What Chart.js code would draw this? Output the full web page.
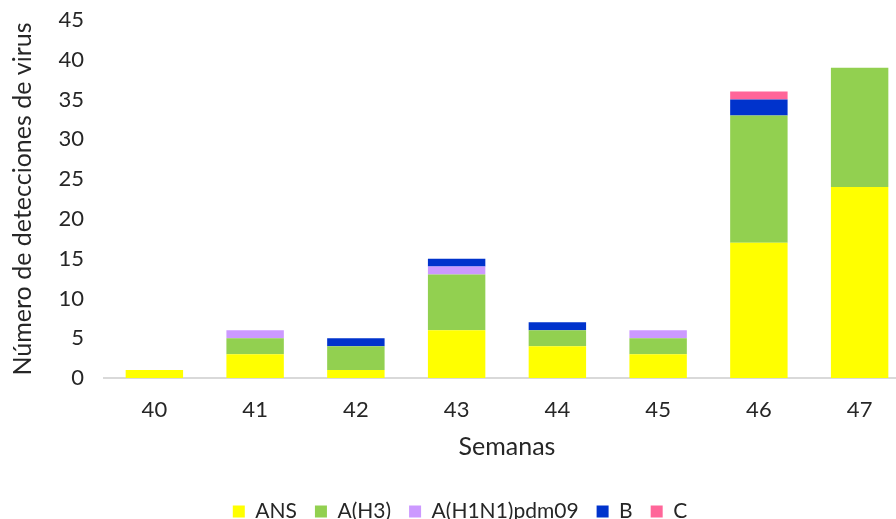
<!DOCTYPE html>
<html>
<head>
<meta charset="utf-8">
<script src="https://cdn.jsdelivr.net/npm/chart.js@4"></script>
<style>
  html, body { margin: 0; padding: 0; background: #fff; overflow: hidden; }
  #wrap { width: 896px; height: 519px; overflow: hidden; }
</style>
</head>
<body>
<div id="wrap"><canvas id="chart" width="910" height="532"></canvas></div>
<script>
// weeks and detections per virus type
var semanas = ['40', '41', '42', '43', '44', '45', '46', '47'];
var ans     = [1, 3, 1, 6, 4, 3, 17, 24];
var aH3     = [0, 2, 3, 7, 2, 2, 16, 15];
var aH1N1   = [0, 1, 0, 1, 0, 1, 0, 0];
var virusB  = [0, 0, 1, 1, 1, 0, 2, 0];
var virusC  = [0, 0, 0, 0, 0, 0, 1, 0];

var fontFam = 'Lato, "Open Sans", sans-serif';
var textColor = '#262626';

// one stacked bar series
var makeSet = function (label, data, color) {
    return {
        label: label,
        data: data,
        backgroundColor: color,
        borderWidth: 0,
        barPercentage: 0.57,
        categoryPercentage: 1.0
    };
};

new Chart(document.getElementById('chart'), {
    type: 'bar',
    data: {
        labels: semanas,
        datasets: [
            makeSet('ANS', ans, '#FFFF00'),
            makeSet('A(H3)', aH3, '#92D050'),
            makeSet('A(H1N1)pdm09', aH1N1, '#CC99FF'),
            makeSet('B', virusB, '#0033CC'),
            makeSet('C', virusC, '#FF6699')
        ]
    },
    options: {
        responsive: false,
        animation: false,
        layout: { padding: { top: 20, left: 10, right: 0, bottom: 0 } },
        plugins: {
            tooltip: { enabled: false },
            legend: {
                position: 'bottom',
                labels: {
                    boxWidth: 12,
                    boxHeight: 12,
                    padding: 18,
                    color: textColor,
                    font: { family: fontFam, size: 21 }
                }
            }
        },
        scales: {
            x: {
                stacked: true,
                grid: { display: false, drawTicks: false },
                border: { display: true, color: '#d9d9d9', width: 2 },
                ticks: { color: textColor, padding: 19, font: { family: fontFam, size: 22 } },
                title: {
                    display: true,
                    text: 'Semanas',
                    color: textColor,
                    padding: { top: 4, bottom: 21 },
                    font: { family: fontFam, size: 25 }
                },
                afterFit: function (scale) { scale.height = 105; }
            },
            y: {
                stacked: true,
                min: 0,
                max: 45,
                grid: { display: false, drawTicks: false },
                border: { display: false },
                ticks: { stepSize: 5, color: textColor, padding: 20, font: { family: fontFam, size: 22 } },
                title: {
                    display: true,
                    text: 'Número de detecciones de virus',
                    color: textColor,
                    padding: { top: -2, bottom: 0 },
                    font: { family: fontFam, size: 25 }
                },
                afterFit: function (scale) {
                    scale.width = 94;
                    // keep tick padding from pushing the plot area down
                    scale.paddingTop = 0;
                    scale.paddingBottom = 0;
                }
            }
        }
    }
});
</script>
</body>
</html>
